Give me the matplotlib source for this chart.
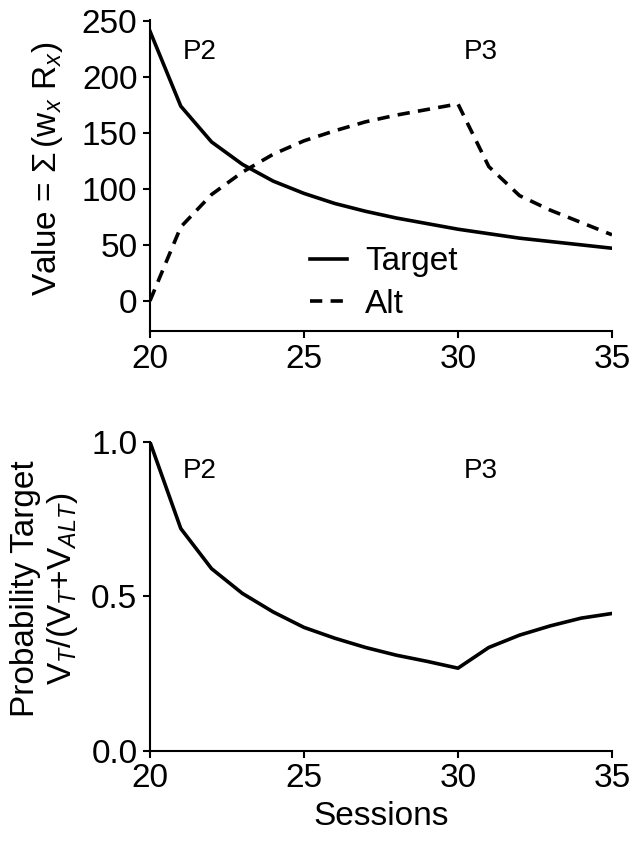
import matplotlib
matplotlib.use('Agg')
import matplotlib.pyplot as plt

# values
sessions = list(range(20, 36))
target_val = [241, 174, 142, 122, 107, 96, 87, 80, 74, 69, 64, 60, 56, 53, 50, 47]
alt_val = [0, 66, 95, 115, 131, 143, 152, 160, 166, 171, 176, 120, 94, 81, 70, 59]
prob_target = [1.0, 0.72, 0.59, 0.51, 0.45, 0.40, 0.365, 0.335, 0.31, 0.29, 0.268,
               0.335, 0.375, 0.405, 0.43, 0.445]
xticks = [20, 25, 30, 35]

plt.rcParams['font.family'] = ['Liberation Sans', 'DejaVu Sans']
plt.rcParams['mathtext.fontset'] = 'custom'
plt.rcParams['mathtext.rm'] = 'Liberation Sans'
plt.rcParams['mathtext.it'] = 'Liberation Sans:italic'
plt.rcParams['mathtext.bf'] = 'Liberation Sans:bold'

FS = 24
PFS = 20
LW = 2.6


def style_axes(ax):
    for side in ('top', 'right'):
        ax.spines[side].set_visible(False)
    for side in ('left', 'bottom'):
        ax.spines[side].set_linewidth(1.5)
    ax.tick_params(direction='out', length=5, width=1.5, labelsize=FS, pad=4)
    ax.set_xlim(20, 35)
    ax.set_xticks(xticks)


fig = plt.figure(figsize=(6.39, 8.44), dpi=100)

# top panel: value of each option
ax1 = fig.add_axes([0.2347, 0.6078, 0.723, 0.3685])
ax1.plot(sessions, target_val, color='black', lw=LW, label='Target')
ax1.plot(sessions, alt_val, color='black', lw=LW, dashes=(3.4, 2.3), label='Alt')
ax1.set_ylim(-27, 251)
ax1.set_yticks([0, 50, 100, 150, 200, 250])
style_axes(ax1)
ax1.text(21.6, 222, 'P2', fontsize=PFS, ha='center', va='center')
ax1.text(30.75, 222, 'P3', fontsize=PFS, ha='center', va='center')
ax1.set_ylabel(r'Value = $\Sigma\,(\mathrm{w}_{\mathit{x}}\ \mathrm{R}_{\mathit{x}})$',
               fontsize=FS)
ax1.yaxis.set_label_coords(-0.185, 0.52)
leg = ax1.legend(loc='lower left', bbox_to_anchor=(0.347, 0.035), frameon=False,
                 fontsize=FS, handlelength=1.1, handletextpad=0.55,
                 labelspacing=0.35, borderaxespad=0.0, borderpad=0.0)

# bottom panel: probability of target
ax2 = fig.add_axes([0.2347, 0.1102, 0.723, 0.3661])
ax2.plot(sessions, prob_target, color='black', lw=LW)
ax2.set_ylim(0, 1.0)
ax2.set_yticks([0.0, 0.5, 1.0])
ax2.set_yticklabels(['0.0', '0.5', '1.0'])
style_axes(ax2)
ax2.text(21.6, 0.905, 'P2', fontsize=PFS, ha='center', va='center')
ax2.text(30.75, 0.905, 'P3', fontsize=PFS, ha='center', va='center')
ax2.set_xlabel('Sessions', fontsize=FS, labelpad=5)
ax2.set_ylabel('Probability Target\n'
               r'$\mathrm{V}_{\mathit{T}}$/($\mathrm{V}_{\mathit{T}}$+$\mathrm{V}_{\mathit{ALT}}$)',
               fontsize=FS, linespacing=1.15)
ax2.yaxis.set_label_coords(-0.152, 0.525)

fig.savefig('out.png', dpi=100)
